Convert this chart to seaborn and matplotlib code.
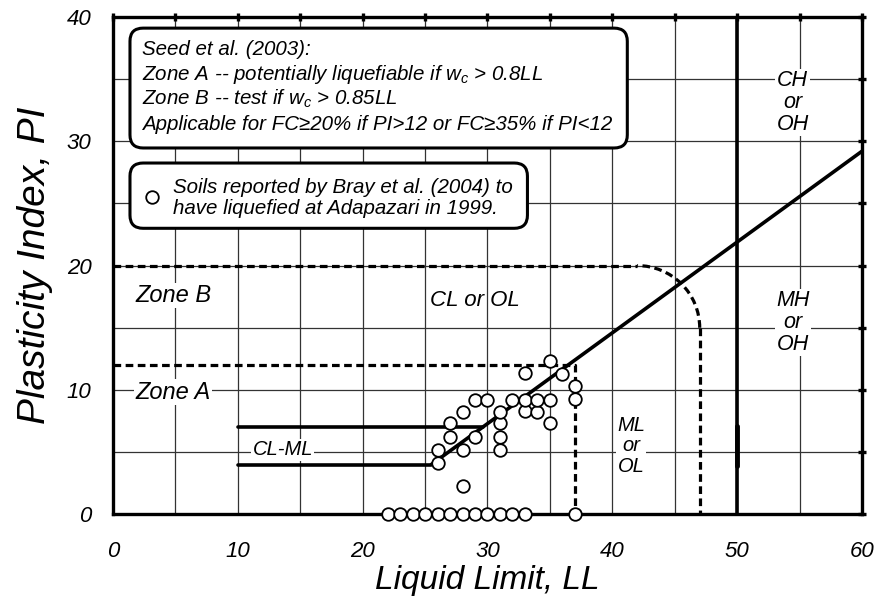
import numpy as np
import pandas as pd
import matplotlib.pyplot as plt
import seaborn as sns
from matplotlib.patches import Arc, FancyBboxPatch

sns.set_style('white')
plt.rcParams['font.family'] = ['Liberation Sans', 'DejaVu Sans']
plt.rcParams['font.style'] = 'italic'
plt.rcParams['text.color'] = 'black'
plt.rcParams['axes.labelcolor'] = 'black'
plt.rcParams['xtick.color'] = 'black'
plt.rcParams['ytick.color'] = 'black'
plt.rcParams['mathtext.fontset'] = 'custom'
plt.rcParams['mathtext.it'] = 'Liberation Sans:italic'
plt.rcParams['mathtext.rm'] = 'Liberation Sans:italic'

# soils reported by Bray et al. (2004), Adapazari 1999
ll = [22, 23, 24, 25, 26, 27, 28, 29, 30, 31, 32, 33, 37,
      26, 26, 27, 27, 28, 28, 28, 29, 29, 30, 31, 31, 31, 31,
      32, 33, 33, 33, 34, 34, 35, 35, 35, 36, 37, 37]
pi = [0, 0, 0, 0, 0, 0, 0, 0, 0, 0, 0, 0, 0,
      4.1, 5.2, 6.2, 7.3, 2.3, 5.2, 8.2, 6.2, 9.2, 9.2, 5.2, 6.2, 7.3, 8.2,
      9.2, 8.3, 9.2, 11.4, 8.2, 9.2, 7.3, 9.2, 12.3, 11.3, 9.3, 10.3]
soils = pd.DataFrame({'LL': ll, 'PI': pi})

# chart boundaries
aline_ll = [25.5, 60]
aline_pi = [4, 29.2]
clml_low_ll = [10, 25.5]
clml_low_pi = [4, 4]
clml_high_ll = [10, 29.6]
clml_high_pi = [7, 7]
ll50_ll = [50, 50]
ll50_pi = [0, 40]
ll50_bump_pi = [3.9, 7.1]
zoneA_ll = [0, 37, 37]
zoneA_pi = [12, 12, 0]
zoneB_ll = [0, 42]
zoneB_pi = [20, 20]
zoneB_corner = (42, 15)
zoneB_vert_ll = [47, 47]
zoneB_vert_pi = [15, 0]

fig = plt.figure(figsize=(8.76, 6.05), dpi=100)
ax = fig.add_axes([0.129, 0.150, 0.855, 0.822])

lw = 2.6
dash = (2.4, 1.4)
ax.plot(aline_ll, aline_pi, color='black', lw=lw, zorder=3)
ax.plot(clml_low_ll, clml_low_pi, color='black', lw=lw, zorder=3)
ax.plot(clml_high_ll, clml_high_pi, color='black', lw=lw, zorder=3)
ax.plot(ll50_ll, ll50_pi, color='black', lw=lw, zorder=3)
ax.plot(ll50_ll, ll50_bump_pi, color='black', lw=3.5, zorder=3)
ax.plot(zoneA_ll, zoneA_pi, color='black', lw=2.3, ls=(0, dash), zorder=3)
ax.plot(zoneB_ll, zoneB_pi, color='black', lw=2.3, ls=(0, dash), zorder=3)
ax.plot(zoneB_vert_ll, zoneB_vert_pi, color='black', lw=2.3, ls=(0, dash), zorder=3)
ax.add_patch(Arc(zoneB_corner, 10, 10, theta1=0, theta2=90, color='black',
                 lw=2.3, ls=(0, dash), zorder=3))

sns.scatterplot(data=soils, x='LL', y='PI', ax=ax, marker='o', s=82,
                facecolor='white', edgecolor='black', linewidth=1.3,
                zorder=4, clip_on=False, legend=False)

ax.set_xlim(0, 60)
ax.set_ylim(0, 40)
ax.set_xticks(range(0, 61, 10))
ax.set_yticks(range(0, 41, 10))
ax.set_xticks(range(5, 60, 10), minor=True)
ax.set_yticks(range(5, 40, 10), minor=True)
ax.grid(True, which='both', color='#333333', lw=0.9)
ax.set_axisbelow(True)
for sp in ax.spines.values():
    sp.set_linewidth(2.4)
    sp.set_color('black')
ax.tick_params(which='both', direction='inout', top=True, right=True,
               width=2.4, color='black')
ax.tick_params(which='major', length=11, labelsize=16)
ax.tick_params(which='minor', length=8)
ax.tick_params(axis='x', pad=14)
ax.tick_params(axis='y', pad=10)
# short ticks on the top and right frame
for axis in (ax.xaxis, ax.yaxis):
    for t in axis.get_major_ticks() + axis.get_minor_ticks():
        t.tick2line.set_markersize(6)
ax.set_xlabel('Liquid Limit, LL', fontsize=24, labelpad=2)
ax.set_ylabel('Plasticity Index, PI', fontsize=28, labelpad=10)

# zone labels
wbox = dict(facecolor='white', edgecolor='none', pad=1)
ax.text(1.8, 17.6, 'Zone B', fontsize=17, va='center', ha='left', bbox=wbox, zorder=2)
ax.text(1.8, 9.8, 'Zone A', fontsize=17, va='center', ha='left', bbox=wbox, zorder=2)
ax.text(13.6, 5.2, 'CL-ML', fontsize=14.5, va='center', ha='center', bbox=wbox, zorder=2)
ax.text(29.0, 17.2, 'CL or OL', fontsize=16, va='center', ha='center', zorder=2)
ax.text(41.5, 5.5, 'ML\nor\nOL', fontsize=14.5, va='center', ha='center',
        linespacing=1.08, bbox=wbox, zorder=2)
ax.text(54.45, 15.4, 'MH\nor\nOH', fontsize=15.5, va='center', ha='center',
        linespacing=1.05, bbox=wbox, zorder=2)
ax.text(54.45, 33.1, 'CH\nor\nOH', fontsize=15.5, va='center', ha='center',
        linespacing=1.05, bbox=wbox, zorder=2)

# Seed et al. note
ax.add_patch(FancyBboxPatch((1.36, 29.46), 39.84, 9.64,
                            boxstyle='round,pad=0,rounding_size=1.05',
                            fc='white', ec='black', lw=2.2, zorder=5))
seed_lines = ['Seed et al. (2003):',
              r'Zone A -- potentially liquefiable if $w_c$ > 0.8LL',
              r'Zone B -- test if $w_c$ > 0.85LL',
              'Applicable for FC≥20% if PI>12 or FC≥35% if PI<12']
for yy, t in zip([36.94, 34.93, 32.92, 30.9], seed_lines):
    ax.text(2.3, yy, t, fontsize=14.8, va='baseline', ha='left', zorder=6)

# Bray et al. legend box
ax.add_patch(FancyBboxPatch((1.36, 23.0), 31.84, 5.25,
                            boxstyle='round,pad=0,rounding_size=1.05',
                            fc='white', ec='black', lw=2.2, zorder=5))
ax.scatter([3.1], [25.54], s=82, facecolor='white', edgecolor='black',
           linewidth=1.3, zorder=6)
bray_lines = ['Soils reported by Bray et al. (2004) to',
              'have liquefied at Adapazari in 1999.']
for yy, t in zip([25.83, 24.14], bray_lines):
    ax.text(4.8, yy, t, fontsize=14.8, va='baseline', ha='left', zorder=6)

plt.savefig('out.png', dpi=100)
